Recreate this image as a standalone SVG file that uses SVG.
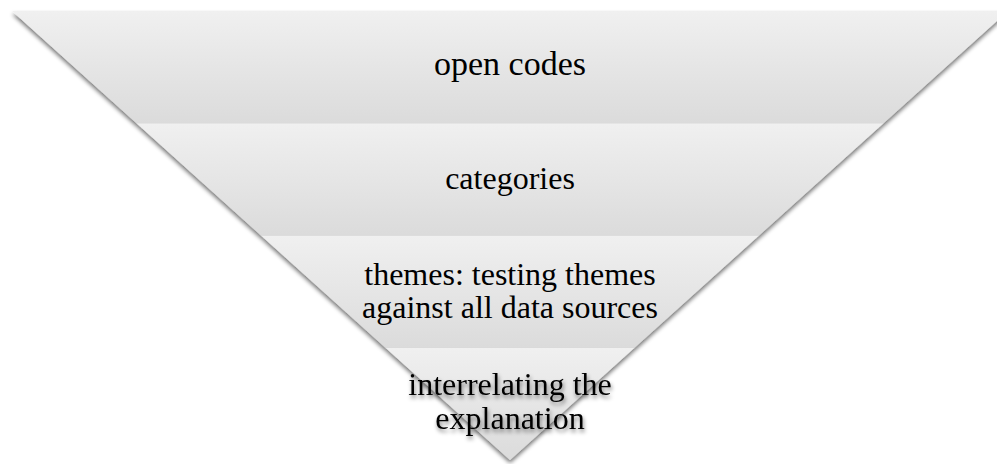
<svg xmlns="http://www.w3.org/2000/svg" width="997" height="464" viewBox="0 0 997 464">
  <style>
    .band { fill: url(#bandGrad); }
    .label { font-family: 'Liberation Serif', Tinos, 'Times New Roman', Times, 'DejaVu Serif', serif; font-size: 32px; fill: #000; text-anchor: middle; }
    .glow { filter: url(#textShadow); }
  </style>
  <defs>
    <linearGradient id="bandGrad" x1="0" y1="0" x2="0" y2="1">
      <stop offset="0" stop-color="#f0f0f0"/>
      <stop offset="1" stop-color="#dbdbdb"/>
    </linearGradient>
    <filter id="dropShadow" x="-5%" y="-5%" width="110%" height="115%">
      <feGaussianBlur in="SourceAlpha" stdDeviation="2"/>
      <feOffset dx="0" dy="3" result="b"/>
      <feComponentTransfer><feFuncA type="linear" slope="0.55"/></feComponentTransfer>
      <feMerge><feMergeNode/><feMergeNode in="SourceGraphic"/></feMerge>
    </filter>
    <filter id="textShadow" x="-10%" y="-20%" width="120%" height="150%">
      <feGaussianBlur in="SourceAlpha" stdDeviation="2"/>
      <feOffset dx="1" dy="3"/>
      <feComponentTransfer><feFuncA type="linear" slope="0.5"/></feComponentTransfer>
      <feMerge><feMergeNode/><feMergeNode in="SourceGraphic"/></feMerge>
    </filter>
  </defs>

  <g id="funnel" filter="url(#dropShadow)">
    <g id="band1">
      <polygon class="band" points="12,11 1008,11 883.5,123.25 136.5,123.25"/>
    </g>
    <g id="band2">
      <polygon class="band" points="136.5,123.25 883.5,123.25 759,235.5 261,235.5"/>
    </g>
    <g id="band3">
      <polygon class="band" points="261,235.5 759,235.5 634.5,347.75 385.5,347.75"/>
    </g>
    <g id="band4">
      <polygon class="band" points="385.5,347.75 634.5,347.75 510,460"/>
    </g>
  </g>

  <g id="labels">
    <text class="label" x="510" y="75" font-family="Liberation Serif, serif" style="font-size:34px">open codes</text>
    <text class="label" x="510" y="189" font-family="Liberation Serif, serif">categories</text>
    <text class="label" x="510" y="285" font-family="Liberation Serif, serif">themes: testing themes</text>
    <text class="label" x="510" y="318" font-family="Liberation Serif, serif">against all data sources</text>
    <g class="glow">
      <text class="label" x="510" y="395" font-family="Liberation Serif, serif">interrelating the</text>
      <text class="label" x="510" y="429" font-family="Liberation Serif, serif">explanation</text>
    </g>
  </g>
  <g id="connectors"/>
</svg>
